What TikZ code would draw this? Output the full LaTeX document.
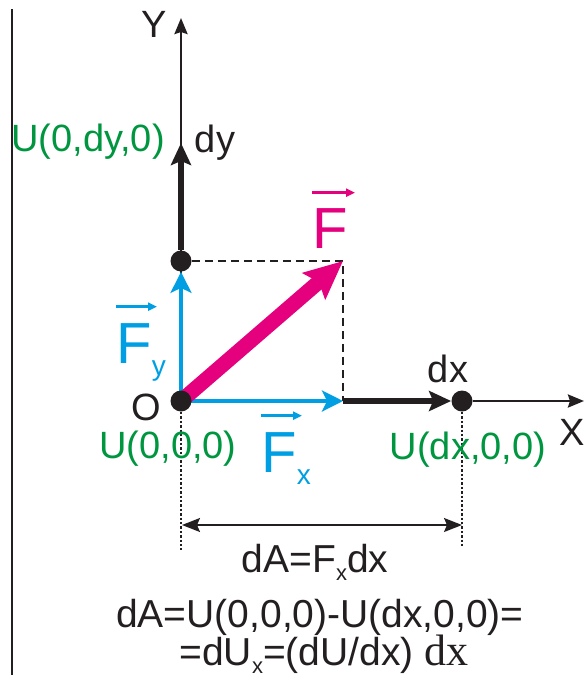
\documentclass[tikz,border=0pt]{standalone}
\usepackage{fontspec}
\setmainfont{Liberation Sans}
\newfontfamily\timesfont{Liberation Serif}
\usetikzlibrary{arrows.meta,backgrounds}
\definecolor{ink}{RGB}{35,31,32}
\definecolor{fgreen}{RGB}{0,150,64}
\definecolor{fblue}{RGB}{0,159,227}
\definecolor{fmagenta}{RGB}{229,0,126}
\newcommand\subs[1]{\raisebox{-6pt}{\fontsize{14}{14}\selectfont #1}}
\newcommand\subt[1]{\raisebox{-4pt}{\fontsize{11}{11}\selectfont #1}}
\begin{document}
\begin{tikzpicture}[x=0.5pt, y=-0.5pt,
  axis/.style={ink, line width=1.2pt, -{Stealth[length=8pt,width=6.5pt,inset=1pt]}},
  displacement/.style={ink, line width=2.8pt, -{Stealth[length=11pt,width=10pt,inset=2pt]}},
  component/.style={fblue, line width=1.7pt, -{Stealth[length=10.5pt,width=10.5pt,inset=2.5pt]}},
  force/.style={fmagenta, line width=7.5pt, -{Stealth[length=19pt,width=17pt,inset=3pt]}},
  overarrow/.style={line width=1.3pt, -{Triangle[length=4.5pt,width=4pt]}},
  guide/.style={ink, line width=0.9pt, dash pattern=on 4pt off 2.5pt},
  leader/.style={ink, line width=0.7pt, dash pattern=on 1.2pt off 1pt},
  dimension/.style={ink, line width=0.8pt, {Stealth[length=9pt,width=7pt,inset=1.5pt]}-{Stealth[length=9pt,width=7pt,inset=1.5pt]}},
  point/.style={circle, fill=ink, minimum size=10.5pt, inner sep=0pt},
  txt/.style={inner sep=0pt, anchor=base, text=ink, font=\fontsize{19}{22}\selectfont},
  vlabel/.style={inner sep=0pt, anchor=base west, font=\fontsize{29}{34}\selectfont}]
\useasboundingbox (0,0) rectangle (585,675);
\draw[ink, line width=0.9pt] (12,9) -- (12,675);
\coordinate (Ytip) at (181,18);
\coordinate (Xtip) at (584,401);
\coordinate (dyend) at (181,143);
\coordinate (corner) at (343,261);
\coordinate (Fxend) at (343,401);
\coordinate (Ofoot) at (181,550);
\coordinate (dxfoot) at (462,547);
\coordinate (dimL) at (182,525);
\coordinate (dimR) at (462,525);
\node[point] (O) at (181,401) {};
\node[point] (Pdy) at (181,261) {};
\node[point] (Pdx) at (462,401) {};
\begin{scope}[on background layer]
\draw[axis] (O) -- (Ytip);
\draw[axis] (Pdx) -- (Xtip);
\draw[displacement] (Pdy) -- (dyend);
\draw[displacement] (Fxend) -- (Pdx);
\draw[guide] (Pdy) -- (corner) -- (Fxend);
\draw[leader] (O) -- (Ofoot);
\draw[leader] (Pdx) -- (dxfoot);
\draw[component] (O.center) -- (Pdy);
\draw[component] (O.center) -- (Fxend);
\draw[force] (O.center) -- (corner);
\end{scope}
\draw[dimension] (dimL) -- (dimR);
\node[txt] (Ylab) at (154,37) {Y};
\node[txt, text=fgreen] (Udy) at (88,151) {U(0,dy,0)};
\node[txt] (dylab) at (215,152) {dy};
\node[txt] (Olab) at (146,420) {O};
\node[txt, text=fgreen] (U0) at (168,458) {U(0,0,0)};
\node[txt] (dxlab) at (448,382) {dx};
\node[txt, text=fgreen] (Udx) at (468,459) {U(dx,0,0)};
\node[txt, anchor=base west] (Xlab) at (559,445) {X};
\node[vlabel, text=fmagenta] (F) at (312,248) {F};
\node[vlabel, text=fblue] (Fy) at (116,363) {F\subs{y}};
\node[vlabel, text=fblue] (Fx) at (261,472) {F\subs{x}};
\draw[overarrow, fmagenta] (F.north west) ++(0,-15) -- ++(43,0);
\draw[overarrow, fblue] (Fy.north west) ++(0,-16) -- ++(41,0);
\draw[overarrow, fblue] (Fx.north west) ++(0,-16) -- ++(41,0);
\node[txt, font=\fontsize{19.5}{22}\selectfont] (work) at (315,572) {dA=F\subt{x}dx};
\node[txt, font=\fontsize{19.5}{22}\selectfont] (eq1) at (320,627) {dA=U(0,0,0)-U(dx,0,0)=};
\node[txt, font=\fontsize{19.5}{22}\selectfont] (eq2) at (324,665) {=dU\subt{x}=(dU/dx) {\timesfont\fontsize{22}{22}\selectfont dx}};
\end{tikzpicture}
\end{document}
